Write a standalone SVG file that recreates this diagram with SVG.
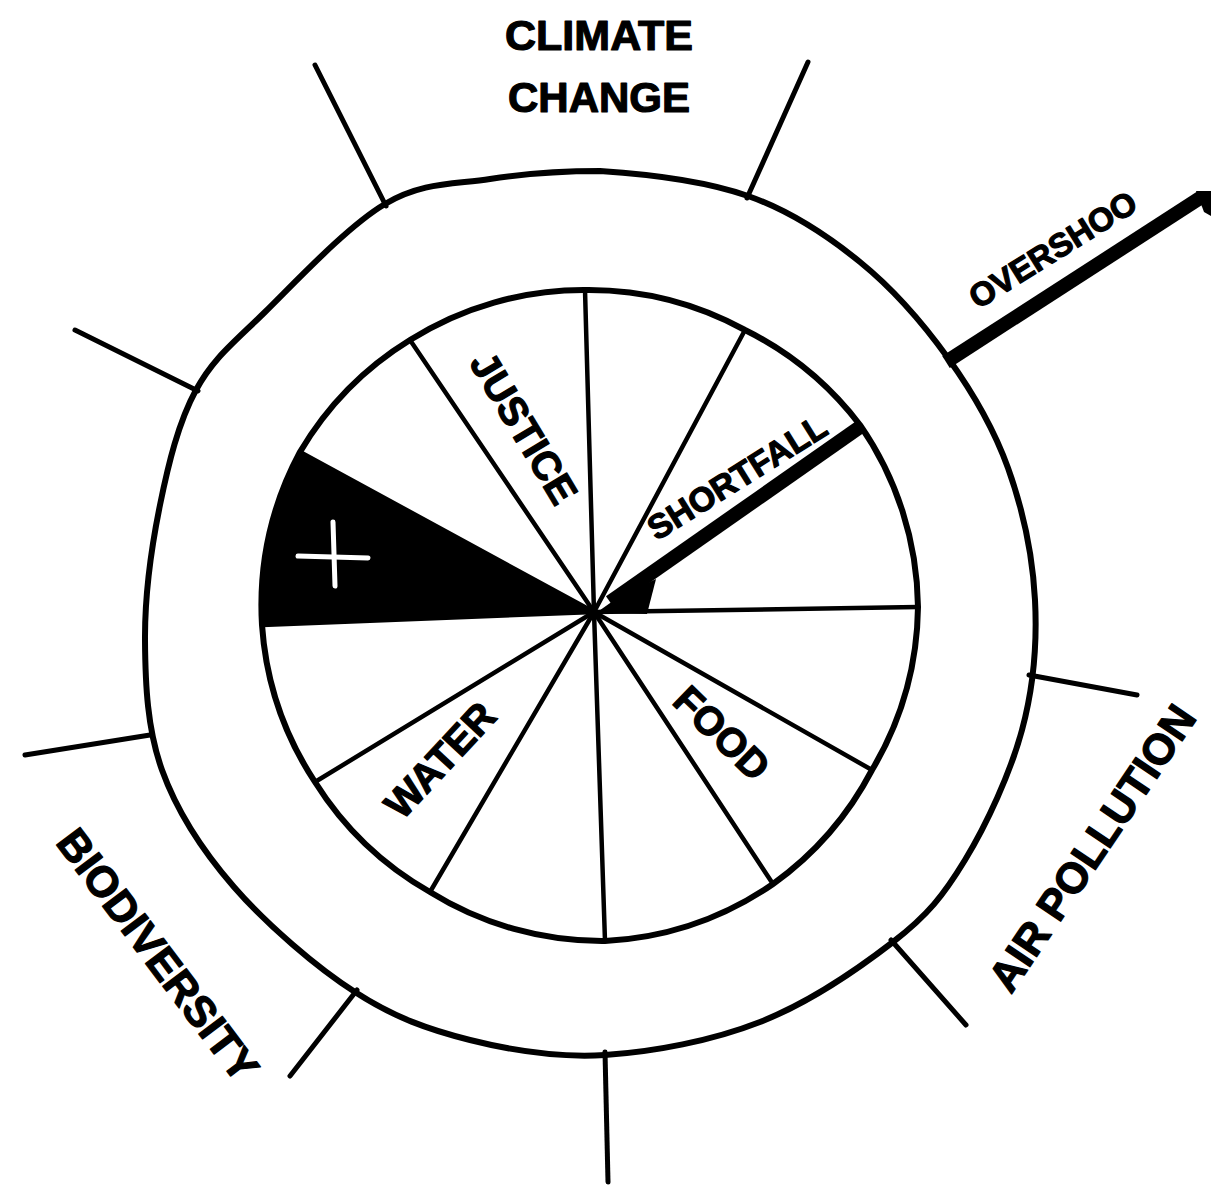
<svg xmlns="http://www.w3.org/2000/svg" width="1211" height="1188" viewBox="0 0 1211 1188">
  <style>
    .ring { fill: none; stroke: #000; stroke-width: 6; stroke-linejoin: round; }
    .spoke { stroke: #000; stroke-width: 4.5; stroke-linecap: round; }
    .bound { stroke: #000; stroke-width: 5; stroke-linecap: round; }
    .thick { stroke: #000; stroke-width: 14; stroke-linecap: butt; }
    .lbl { font-family: "Liberation Sans", Arial, sans-serif; font-weight: bold; fill: #000; stroke: #000; stroke-width: 1.2; stroke-linejoin: round; text-anchor: middle; }
  </style>
  <defs>
    <clipPath id="cut">
      <rect x="0" y="191" width="1211" height="1000"/>
      <rect x="0" y="0" width="1090" height="191"/>
    </clipPath>
  </defs>
  <rect width="1211" height="1188" fill="#fff"/>

  <g id="outer-ring">
    <path class="ring" d="M600,171 C643,173.8 704.7,180.8 748,196 C791.3,211.2 826.7,235 860,262 C893.3,289 923.3,323.7 948,358 C972.7,392.3 993.5,427.7 1008,468 C1022.5,508.3 1032.7,556.3 1035,600 C1037.3,643.7 1033.7,686.7 1022,730 C1010.3,773.3 986.5,824.7 965,860 C943.5,895.3 928,915 893,942 C858,969 808,1003.2 760,1022 C712,1040.8 653.3,1052 605,1055 C556.7,1058 511.7,1050.5 470,1040 C428.3,1029.5 394.3,1017.5 355,992 C316.7,967.8 266.2,924 234,887 C201.8,850 176.8,811.2 162,770 C147.2,728.8 145.3,684.2 145,640 C144.7,595.8 151.5,546.7 160,505 C168.5,463.3 178.5,422.2 196,390 C213.5,357.8 233.5,343 265,312 C296.5,281 347.5,226.2 385,204 C422.5,181.8 454.2,184.5 490,179 C525.8,173.5 557,171 600,171 Z"/>
  </g>

  <g id="black-wedge">
    <path d="M594,612 L300,452 A326,326 0 0 0 262,625 Z" fill="#000"/>
    <g stroke="#fff" stroke-width="5" stroke-linecap="round">
      <line x1="298" y1="556" x2="368" y2="558"/>
      <line x1="333" y1="522" x2="335" y2="586"/>
    </g>
  </g>

  <g id="inner-ring">
    <path class="ring" d="M585,290 A326,326 0 0 1 745,330 A326,326 0 0 1 860,425 A326,326 0 0 1 918,607 A326,326 0 0 1 872,770 A326,326 0 0 1 773,884 A326,326 0 0 1 605,941 A326,326 0 0 1 430,892 A326,326 0 0 1 315,782 A326,326 0 0 1 262,625 A326,326 0 0 1 300,452 A326,326 0 0 1 410,340 A326,326 0 0 1 585,290 Z"/>
  </g>

  <g id="connectors">
    <g id="inner-spokes">
      <line class="spoke" x1="594" y1="612" x2="585" y2="290"/>
      <line class="spoke" x1="594" y1="612" x2="745" y2="330"/>
      <line class="spoke" x1="594" y1="612" x2="918" y2="607"/>
      <line class="spoke" x1="594" y1="612" x2="872" y2="770"/>
      <line class="spoke" x1="594" y1="612" x2="773" y2="884"/>
      <line class="spoke" x1="594" y1="612" x2="605" y2="941"/>
      <line class="spoke" x1="594" y1="612" x2="430" y2="892"/>
      <line class="spoke" x1="594" y1="612" x2="315" y2="782"/>
      <line class="spoke" x1="594" y1="612" x2="262" y2="625"/>
      <line class="spoke" x1="594" y1="612" x2="300" y2="452"/>
      <line class="spoke" x1="594" y1="612" x2="410" y2="340"/>
    </g>
    <g id="shortfall-line">
      <line class="thick" x1="610" y1="602" x2="860" y2="427"/>
      <polygon points="596,613 647,614 656,579 620,596" fill="#000"/>
    </g>
    <g id="boundary-spokes">
      <line class="bound" x1="386" y1="206" x2="315" y2="65"/>
      <line class="bound" x1="747" y1="198" x2="808" y2="62"/>
      <line class="bound" x1="1029" y1="675" x2="1137" y2="695"/>
      <line class="bound" x1="891" y1="940" x2="966" y2="1025"/>
      <line class="bound" x1="605" y1="1052" x2="608" y2="1182"/>
      <line class="bound" x1="357" y1="990" x2="290" y2="1076"/>
      <line class="bound" x1="150" y1="735" x2="25" y2="755"/>
      <line class="bound" x1="198" y1="391" x2="75" y2="330"/>
    </g>
    <g id="overshoot-line" clip-path="url(#cut)">
      <line class="thick" x1="946" y1="362" x2="1211" y2="191"/>
      <polygon points="1196,191 1211,191 1211,216 1204,212" fill="#000"/>
    </g>
  </g>

  <g id="label-climate-change">
    <text class="lbl" x="599" y="50" font-size="43">CLIMATE</text>
    <text class="lbl" x="599" y="112" font-size="42">CHANGE</text>
  </g>
  <g id="label-overshoot" clip-path="url(#cut)">
    <text class="lbl" font-size="33" transform="translate(1053,250) rotate(-32)" y="11">OVERSHOO</text>
  </g>
  <g id="label-justice">
    <text class="lbl" font-size="40" transform="translate(524,428) rotate(59)" y="14">JUSTICE</text>
  </g>
  <g id="label-shortfall">
    <text class="lbl" font-size="34" transform="translate(737,477) rotate(-32)" y="12">SHORTFALL</text>
  </g>
  <g id="label-food">
    <text class="lbl" font-size="40" transform="translate(722,733) rotate(44)" y="14">FOOD</text>
  </g>
  <g id="label-water">
    <text class="lbl" font-size="40" transform="translate(440,760) rotate(-47)" y="14">WATER</text>
  </g>
  <g id="label-biodiversity">
    <text class="lbl" font-size="43" transform="translate(158,955) rotate(53)" y="15">BIODIVERSITY</text>
  </g>
  <g id="label-air-pollution">
    <text class="lbl" font-size="43" transform="translate(1092,848) rotate(-56)" y="15">AIR POLLUTION</text>
  </g>
</svg>
